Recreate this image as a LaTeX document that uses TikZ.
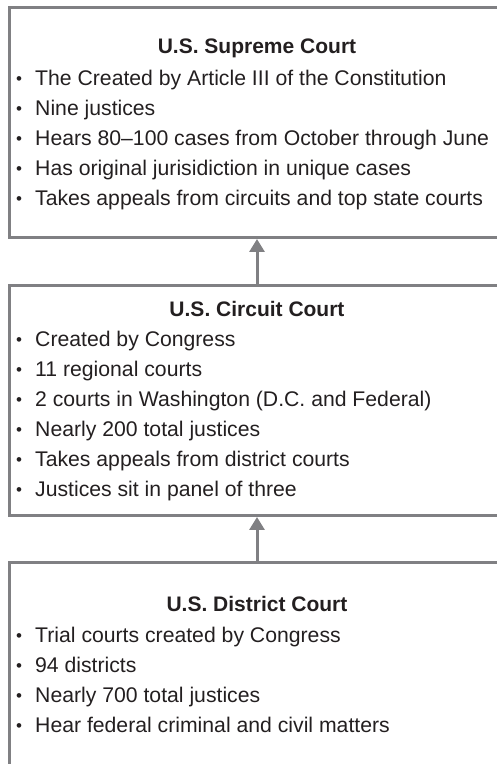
\documentclass[tikz,border=0pt]{standalone}
\usepackage{fontspec}
\setmainfont{Liberation Sans}
\usetikzlibrary{arrows.meta}
\definecolor{frame}{RGB}{128,128,131}
\definecolor{ink}{RGB}{35,31,32}
% small bullet followed by a fixed indent for the item text
\newcommand{\courtitem}[1]{\makebox[19pt][l]{\fontsize{17}{17}\selectfont\raisebox{1.2pt}{\textbullet}}#1}
\begin{document}
\begin{tikzpicture}[x=1pt,y=1pt,
  courtbox/.style={draw=frame, line width=3pt, rectangle, outer sep=0pt,
    inner sep=0pt, anchor=north west},
  title/.style={anchor=base, inner sep=0pt, text=ink,
    font=\fontsize{21}{25}\selectfont\bfseries},
  entry/.style={anchor=base west, inner sep=0pt, text=ink,
    font=\fontsize{21.2}{25}\selectfont},
  link/.style={draw=frame, line width=3pt, shorten >=1.5pt,
    -{Triangle[width=15pt,length=13pt]}}]
\useasboundingbox (0,0) rectangle (497,764);

% three court boxes, open past the right (and lowest one past the bottom) edge
\node[courtbox, minimum width=540pt, minimum height=230pt] (supreme) at (9.5,756.5) {};
\node[courtbox, minimum width=540pt, minimum height=229.5pt] (circuit) at (9.5,478) {};
\node[courtbox, minimum width=540pt, minimum height=300pt] (district) at (9.5,201.5) {};

% appeal arrows
\coordinate (spine) at (257,0);
\draw[link] (circuit.north west -| spine) -- (supreme.south west -| spine);
\draw[link] (district.north west -| spine) -- (circuit.south west -| spine);

% Supreme Court
\node[title] (sTitle) at (257,710) {U.S. Supreme Court};
\node[entry] (s1) at (16,678) {\courtitem{The Created by Article III of the Constitution}};
\node[entry] (s2) at (16,648) {\courtitem{Nine justices}};
\node[entry] (s3) at (16,618) {\courtitem{Hears 80–100 cases from October through June}};
\node[entry] (s4) at (16,588) {\courtitem{Has original jurisidiction in unique cases}};
\node[entry] (s5) at (16,558) {\courtitem{Takes appeals from circuits and top state courts}};

% Circuit Court
\node[title] (cTitle) at (257,447) {U.S. Circuit Court};
\node[entry] (c1) at (16,417) {\courtitem{Created by Congress}};
\node[entry] (c2) at (16,387) {\courtitem{11 regional courts}};
\node[entry] (c3) at (16,357) {\courtitem{2 courts in Washington (D.C. and Federal)}};
\node[entry] (c4) at (16,327) {\courtitem{Nearly 200 total justices}};
\node[entry] (c5) at (16,297) {\courtitem{Takes appeals from district courts}};
\node[entry] (c6) at (16,267) {\courtitem{Justices sit in panel of three}};

% District Court
\node[title] (dTitle) at (257,152) {U.S. District Court};
\node[entry] (d1) at (16,121) {\courtitem{Trial courts created by Congress}};
\node[entry] (d2) at (16,91) {\courtitem{94 districts}};
\node[entry] (d3) at (16,61) {\courtitem{Nearly 700 total justices}};
\node[entry] (d4) at (16,31) {\courtitem{Hear federal criminal and civil matters}};
\end{tikzpicture}
\end{document}
